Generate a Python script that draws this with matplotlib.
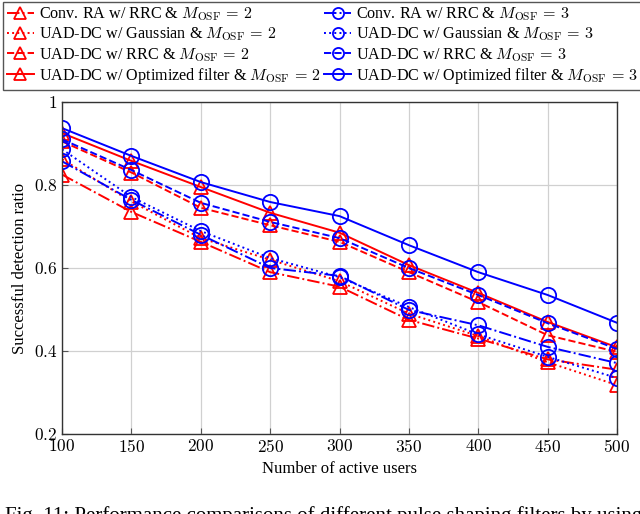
import matplotlib
matplotlib.use('Agg')
import matplotlib.pyplot as plt
import numpy as np

plt.rcParams['font.family'] = ['Liberation Serif', 'DejaVu Serif']
plt.rcParams['mathtext.fontset'] = 'cm'

# number of active users
users = [100, 150, 200, 250, 300, 350, 400, 450, 500]

# M_OSF = 2 (red)
conv_rrc_2 = [0.825, 0.735, 0.663, 0.590, 0.555, 0.475, 0.430, 0.380, 0.355]
uad_gauss_2 = [0.862, 0.760, 0.672, 0.620, 0.568, 0.490, 0.436, 0.373, 0.318]
uad_rrc_2 = [0.905, 0.830, 0.745, 0.703, 0.663, 0.590, 0.518, 0.438, 0.398]
uad_opt_2 = [0.925, 0.858, 0.795, 0.733, 0.685, 0.607, 0.540, 0.470, 0.409]

# M_OSF = 3 (blue)
conv_rrc_3 = [0.857, 0.764, 0.680, 0.600, 0.581, 0.499, 0.462, 0.410, 0.371]
uad_gauss_3 = [0.886, 0.771, 0.689, 0.624, 0.578, 0.506, 0.440, 0.386, 0.335]
uad_rrc_3 = [0.910, 0.836, 0.757, 0.711, 0.672, 0.600, 0.535, 0.467, 0.405]
uad_opt_3 = [0.937, 0.870, 0.807, 0.759, 0.725, 0.655, 0.590, 0.535, 0.468]

yticks = [0.2, 0.4, 0.6, 0.8, 1.0]
ytick_labels = ['0.2', '0.4', '0.6', '0.8', '1']

fig = plt.figure(figsize=(6.4, 5.14), dpi=100)
ax = fig.add_axes([0.097, 0.1556, 0.867, 0.646])

red_kw = dict(color='#ff0000', marker='^', markersize=10, markerfacecolor='none',
              markeredgewidth=1.3, linewidth=1.4)
blue_kw = dict(color='#0000ff', marker='o', markersize=11, markerfacecolor='none',
               markeredgewidth=1.3, linewidth=1.4)

m2 = r'$M_{\mathrm{OSF}}\,=\,2$'
m3 = r'$M_{\mathrm{OSF}}\,=\,3$'

l1, = ax.plot(users, conv_rrc_2, linestyle='-.', label='Conv. RA w/ RRC & ' + m2, **red_kw)
l2, = ax.plot(users, uad_gauss_2, linestyle=':', label='UAD-DC w/ Gaussian & ' + m2, **red_kw)
l3, = ax.plot(users, uad_rrc_2, linestyle='--', label='UAD-DC w/ RRC & ' + m2, **red_kw)
l4, = ax.plot(users, uad_opt_2, linestyle='-', label='UAD-DC w/ Optimized filter & ' + m2, **red_kw)
l5, = ax.plot(users, conv_rrc_3, linestyle='-.', label='Conv. RA w/ RRC & ' + m3, **blue_kw)
l6, = ax.plot(users, uad_gauss_3, linestyle=':', label='UAD-DC w/ Gaussian & ' + m3, **blue_kw)
l7, = ax.plot(users, uad_rrc_3, linestyle='--', label='UAD-DC w/ RRC & ' + m3, **blue_kw)
l8, = ax.plot(users, uad_opt_3, linestyle='-', label='UAD-DC w/ Optimized filter & ' + m3, **blue_kw)

ax.set_xlim(100, 500)
ax.set_ylim(0.2, 1.0)
ax.set_xticks(users)
ax.set_xticklabels(['$%d$' % u for u in users])
ax.set_yticks(yticks)
ax.set_yticklabels(['$%s$' % t for t in ytick_labels])
ax.grid(True, color='#d0d0d0', linewidth=0.9)
ax.set_axisbelow(True)
ax.tick_params(direction='in', labelsize=12.5, length=4, color='#555555')
for s in ax.spines.values():
    s.set_color('#333333')
    s.set_linewidth(1.0)
ax.set_xlabel('Number of active users', fontsize=12)
ax.set_ylabel('Successful detection ratio', fontsize=12)

leg = fig.legend(handles=[l1, l2, l3, l4, l5, l6, l7, l8], ncol=2,
                 loc='upper left', bbox_to_anchor=(0.004, 0.997), borderaxespad=0,
                 fontsize=11.6, handlelength=1.7, handletextpad=0.3,
                 columnspacing=0.2, labelspacing=0.15, borderpad=0.25,
                 fancybox=False, framealpha=1, edgecolor='#555555')
leg.get_frame().set_linewidth(1.0)
for h in leg.legend_handles:
    h.set_markersize(8)

fig.text(0.008, -0.004, 'Fig. 11: Performance comparisons of different pulse shaping filters by using',
         fontsize=15, va='center', ha='left')

fig.savefig('out.png', dpi=100)
